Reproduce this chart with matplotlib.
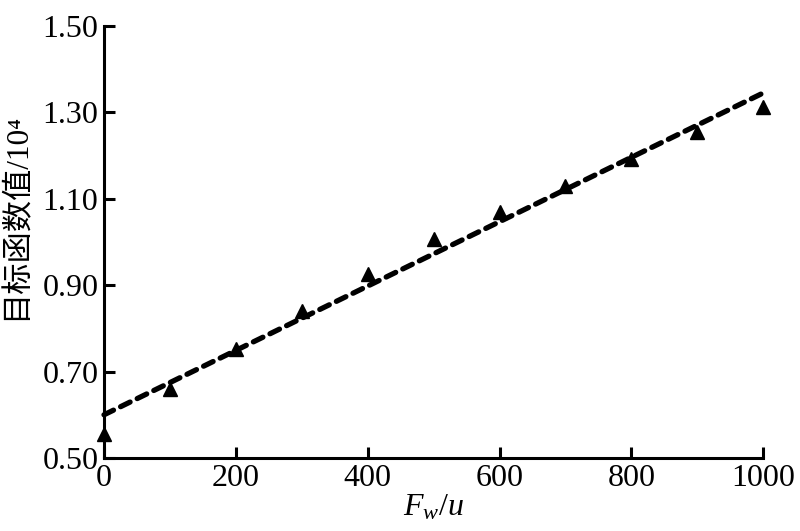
import matplotlib
matplotlib.use("Agg")
import matplotlib.pyplot as plt

plt.rcParams['font.family'] = ['Liberation Serif', 'Noto Sans CJK SC']
plt.rcParams['mathtext.fontset'] = 'custom'
plt.rcParams['mathtext.rm'] = 'Liberation Serif'
plt.rcParams['mathtext.it'] = 'Liberation Serif:italic'

# data
fw = [0, 100, 200, 300, 400, 500, 600, 700, 800, 900, 1000]
obj = [0.555, 0.66, 0.752, 0.84, 0.927, 1.006, 1.07, 1.13, 1.192, 1.255, 1.312]
fit_x = [0, 1000]
fit_y = [0.60, 1.345]
xticks = [0, 200, 400, 600, 800, 1000]
yticks = [0.50, 0.70, 0.90, 1.10, 1.30, 1.50]
ytick_labels = ["0.50", "0.70", "0.90", "1.10", "1.30", "1.50"]

fig = plt.figure(figsize=(8.0, 5.31), dpi=100)
ax = fig.add_axes([0.13, 0.1375, 0.824, 0.8135])

ax.plot(fit_x, fit_y, color='black', lw=3.8, linestyle=(0, (2.0, 1.5)),
        dash_capstyle='round', zorder=2, clip_on=False)
ax.plot(fw, obj, linestyle='none', marker='^', color='black', markersize=10,
        zorder=3, clip_on=False)

ax.set_xlim(0, 1000)
ax.set_ylim(0.50, 1.50)
ax.set_xticks(xticks)
ax.set_xticklabels([str(v) for v in xticks])
ax.set_yticks(yticks)
ax.set_yticklabels(ytick_labels)

for s in ['top', 'right']:
    ax.spines[s].set_visible(False)
for s in ['left', 'bottom']:
    ax.spines[s].set_linewidth(2.2)
ax.tick_params(direction='in', length=8, width=2.2, labelsize=23, pad=4)

ax.set_xlabel(r'$F_w/u$', fontsize=23, labelpad=0)
ax.set_ylabel('目标函数值/10⁴', fontsize=22.5)
ax.yaxis.set_label_coords(-0.11, 0.56)

fig.savefig('out.png', dpi=100)
